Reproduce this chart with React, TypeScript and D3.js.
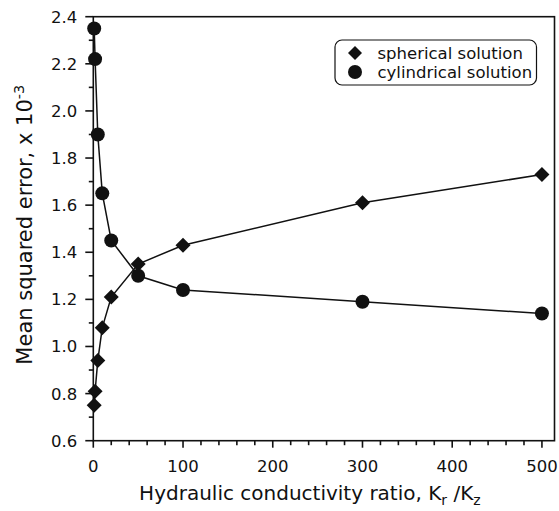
import React from "react";
import * as d3 from "d3";

const ratios = [1, 2, 5, 10, 20, 50, 100, 300, 500];
const spherical = [0.75, 0.81, 0.94, 1.08, 1.21, 1.35, 1.43, 1.61, 1.73];
const cylindrical = [2.35, 2.22, 1.9, 1.65, 1.45, 1.3, 1.24, 1.19, 1.14];
const xTicks = [0, 100, 200, 300, 400, 500];
const yTicks = [0.6, 0.8, 1.0, 1.2, 1.4, 1.6, 1.8, 2.0, 2.2, 2.4];
const legendLabels = ["spherical solution", "cylindrical solution"];

const W = 559;
const H = 511;
const M = { left: 93.3, right: 554.5, top: 16.7, bottom: 440.7 };
const FONT = "'DejaVu Sans', Verdana, sans-serif";
const INK = "#111";

export default function App() {
  const x = d3.scaleLinear().domain([0, 514]).range([M.left, M.right]);
  const y = d3.scaleLinear().domain([0.6, 2.4]).range([M.bottom, M.top]);
  const xMinor = d3.range(0, 501, 20).filter((v) => v % 100 !== 0);
  const yMinor = d3.range(7, 24, 2).map((v) => v / 10);
  const line = d3
    .line<[number, number]>()
    .x((d) => x(d[0]))
    .y((d) => y(d[1]));
  const sph = ratios.map((r, i) => [r, spherical[i]] as [number, number]);
  const cyl = ratios.map((r, i) => [r, cylindrical[i]] as [number, number]);
  const diamond = (cx: number, cy: number, s: number) =>
    `M${cx},${cy - s}L${cx + s},${cy}L${cx},${cy + s}L${cx - s},${cy}Z`;

  return (
    <svg width={W} height={H} style={{ position: "absolute", left: 0, top: 0 }}>
      <rect width={W} height={H} fill="#fff" />
      {/* frame */}
      <rect
        x={M.left}
        y={M.top}
        width={M.right - M.left}
        height={M.bottom - M.top}
        fill="none"
        stroke={INK}
        strokeWidth={1.6}
      />
      {/* x ticks */}
      {xTicks.map((t) => (
        <g key={"xt" + t}>
          <line x1={x(t)} x2={x(t)} y1={M.bottom} y2={M.bottom + 7} stroke={INK} strokeWidth={1.6} />
          <text
            x={x(t)}
            y={M.bottom + 31}
            textAnchor="middle"
            fontFamily={FONT}
            fontSize={16.5}
            fill={INK}
          >
            {t}
          </text>
        </g>
      ))}
      {xMinor.map((t) => (
        <line key={"xm" + t} x1={x(t)} x2={x(t)} y1={M.bottom} y2={M.bottom + 4.5} stroke={INK} strokeWidth={1.6} />
      ))}
      {/* y ticks */}
      {yTicks.map((t) => (
        <g key={"yt" + t}>
          <line x1={M.left - 8} x2={M.left} y1={y(t)} y2={y(t)} stroke={INK} strokeWidth={1.6} />
          <text
            x={M.left - 16}
            y={y(t)}
            dy="0.36em"
            textAnchor="end"
            fontFamily={FONT}
            fontSize={16.5}
            fill={INK}
          >
            {t.toFixed(1)}
          </text>
        </g>
      ))}
      {yMinor.map((t) => (
        <line key={"ym" + t} x1={M.left - 4.5} x2={M.left} y1={y(t)} y2={y(t)} stroke={INK} strokeWidth={1.6} />
      ))}
      {/* lines */}
      <path d={line(sph) || ""} fill="none" stroke={INK} strokeWidth={1.5} />
      <path d={line(cyl) || ""} fill="none" stroke={INK} strokeWidth={1.5} />
      {sph.map((d, i) => (
        <path key={"s" + i} d={diamond(x(d[0]), y(d[1]), 7.5)} fill={INK} />
      ))}
      {cyl.map((d, i) => (
        <circle key={"c" + i} cx={x(d[0])} cy={y(d[1])} r={7} fill={INK} />
      ))}
      {/* legend */}
      <rect x={335} y={40} width={201.5} height={45} rx={7} fill="#fff" stroke={INK} strokeWidth={1.2} />
      <path d={diamond(355, 53, 7)} fill={INK} />
      <circle cx={355} cy={72} r={7} fill={INK} />
      {legendLabels.map((l, i) => (
        <text
          key={l}
          x={377.5}
          y={53 + i * 19}
          dy="0.36em"
          fontFamily={FONT}
          fontSize={16.5}
          fill={INK}
        >
          {l}
        </text>
      ))}
      {/* axis titles */}
      <text
        x={(M.left + M.right) / 2 - 14}
        y={500}
        textAnchor="middle"
        fontFamily={FONT}
        fontSize={20}
        fill={INK}
      >
        Hydraulic conductivity ratio, K
        <tspan fontSize={14} dy={5}>r</tspan>
        <tspan dy={-5}> /K</tspan>
        <tspan fontSize={14} dy={5}>z</tspan>
      </text>
      <text
        transform={`translate(32, ${(M.top + M.bottom) / 2 - 4}) rotate(-90)`}
        textAnchor="middle"
        fontFamily={FONT}
        fontSize={21}
        fill={INK}
      >
        Mean squared error, x 10
        <tspan fontSize={14.5} dy={-8}>-3</tspan>
      </text>
    </svg>
  );
}
